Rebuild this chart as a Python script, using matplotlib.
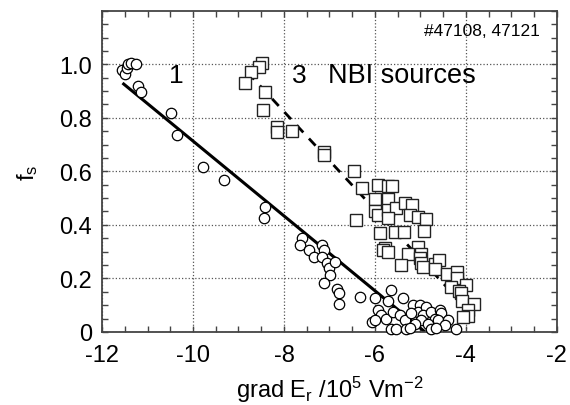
import numpy as np
import matplotlib
matplotlib.use("Agg")
import matplotlib.pyplot as plt
from matplotlib.ticker import MultipleLocator, FuncFormatter

plt.rcParams['font.family'] = ['Liberation Sans', 'DejaVu Sans']
plt.rcParams['axes.unicode_minus'] = False
plt.rcParams['mathtext.default'] = 'regular'

# 1 NBI source (circles)
circ_x = [-11.55, -11.49, -11.45, -11.42, -11.37, -11.26, -11.22, -11.15, -10.49, -10.35,
          -9.77, -9.32, -8.42, -8.44,
          -7.60, -7.64, -7.45, -7.35, -7.16, -7.13, -7.16, -7.06, -7.02, -6.87, -6.98, -7.13,
          -6.84, -6.80, -6.80, -6.33, -5.99, -5.71, -5.64, -5.38, -5.93, -5.86, -5.75, -6.07,
          -6.00, -5.60, -5.45, -5.35, -5.64, -5.53, -5.31, -5.16, -5.02, -5.05, -5.20, -4.87,
          -4.95, -4.98, -4.77, -4.58, -4.55, -4.69, -4.84, -4.62, -4.40, -4.47, -4.77, -4.66,
          -4.22, -5.13, -5.24]
circ_y = [0.977, 0.962, 0.987, 1.000, 1.006, 1.000, 0.919, 0.897, 0.819, 0.735,
          0.615, 0.566, 0.466, 0.427,
          0.350, 0.325, 0.306, 0.281, 0.325, 0.306, 0.281, 0.256, 0.237, 0.262, 0.212, 0.181,
          0.162, 0.144, 0.103, 0.131, 0.127, 0.115, 0.156, 0.127, 0.081, 0.062, 0.050, 0.037,
          0.044, 0.075, 0.062, 0.044, 0.012, 0.010, 0.012, 0.100, 0.100, 0.075, 0.069, 0.094,
          0.062, 0.044, 0.075, 0.081, 0.069, 0.050, 0.031, 0.044, 0.044, 0.025, 0.012, 0.016,
          0.010, 0.031, 0.016]

# 3 NBI sources (squares)
sq_x = [-8.49, -8.56, -8.73, -8.85, -8.41, -8.46, -8.15, -8.15, -7.83, -7.13, -7.13, -6.47,
        -6.29, -5.93, -5.71, -5.62, -5.99, -5.72, -6.00, -5.93, -5.72, -5.53, -5.35, -5.19,
        -5.71, -5.24, -5.06, -4.87, -6.42, -5.88, -5.56, -5.36, -4.92, -5.78, -5.82, -5.71,
        -5.06, -5.27, -4.98, -5.43, -5.00, -4.98, -4.95, -4.69, -4.60, -4.68, -4.42, -4.19,
        -4.20, -4.33, -4.00, -4.15, -4.11, -4.08, -3.82, -3.95, -3.95, -4.07]
sq_y = [1.006, 0.990, 0.970, 0.931, 0.895, 0.829, 0.767, 0.747, 0.752, 0.672, 0.660, 0.603,
        0.538, 0.550, 0.547, 0.544, 0.498, 0.496, 0.452, 0.437, 0.456, 0.462, 0.481, 0.475,
        0.425, 0.437, 0.431, 0.421, 0.419, 0.369, 0.373, 0.373, 0.377, 0.315, 0.306, 0.298,
        0.316, 0.290, 0.290, 0.250, 0.276, 0.256, 0.242, 0.252, 0.269, 0.235, 0.215, 0.225,
        0.200, 0.167, 0.175, 0.153, 0.144, 0.115, 0.104, 0.081, 0.058, 0.054]

# linear fits
fit1_x = [-11.55, -4.9]
fit1_y = [0.93, 0.0]
fit3_x = [-8.8, -4.0]
fit3_y = [0.97, 0.09]

fig = plt.figure(figsize=(5.7, 4.06), dpi=100)
ax = fig.add_axes([0.179, 0.180, 0.798, 0.791])

ax.plot(fit1_x, fit1_y, color='black', lw=2.2, solid_capstyle='butt', zorder=2)
ax.plot(fit3_x, fit3_y, color='black', lw=2.0, ls=(0, (3.5, 3)), zorder=2)

ax.plot(circ_x, circ_y, 'o', ms=7.5, mfc='white', mec='black', mew=0.9, zorder=3, clip_on=False)
ax.plot(sq_x, sq_y, 's', ms=8, mfc='white', mec='#222222', mew=1.0, zorder=3, clip_on=False)

ax.set_xlim(-12, -2)
ax.set_ylim(0, 1.2)
ax.xaxis.set_major_locator(MultipleLocator(2))
ax.xaxis.set_minor_locator(MultipleLocator(0.5))
ax.set_yticks([0, 0.2, 0.4, 0.6, 0.8, 1.0])
ax.yaxis.set_minor_locator(MultipleLocator(0.05))
ax.yaxis.set_major_formatter(FuncFormatter(lambda v, p: '0' if abs(v) < 1e-9 else '%.1f' % v))
ax.xaxis.set_major_formatter(FuncFormatter(lambda v, p: '%d' % round(v)))

ax.tick_params(which='both', direction='in', top=True, right=True, length=4, width=1,
               color='#444444', labelsize=17)
ax.tick_params(axis='x', pad=9)
ax.tick_params(axis='y', pad=7)
for s in ax.spines.values():
    s.set_linewidth(1.3)
    s.set_color('#444444')

ax.grid(True, which='major', ls=':', color='#555555', lw=0.9)
ax.set_axisbelow(True)

ax.text(-10.52, 0.935, '1', fontsize=19, ha='left', va='baseline')
ax.text(-7.83, 0.935, '3', fontsize=19, ha='left', va='baseline')
ax.text(-7.03, 0.935, 'NBI sources', fontsize=19.5, ha='left', va='baseline')
ax.text(-2.37, 1.111, '#47108, 47121', fontsize=12.5, ha='right', va='baseline')

ax.set_xlabel(r'grad E$_r$ /10$^5$ Vm$^{-2}$', fontsize=17, labelpad=5)
ax.set_ylabel(r'f$_s$', fontsize=17, labelpad=14)

fig.savefig('out.png', dpi=100)
